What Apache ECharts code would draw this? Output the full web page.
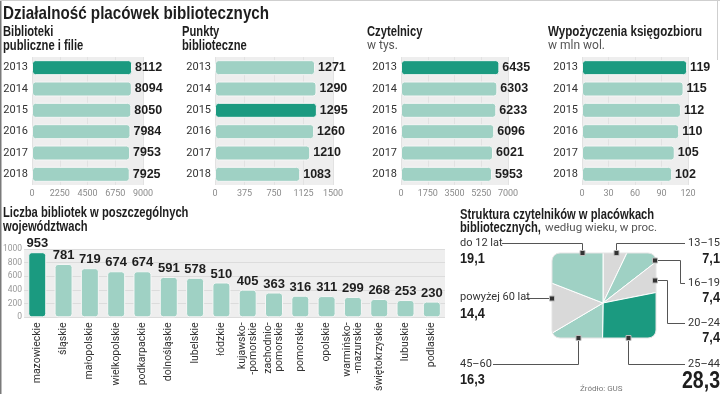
<!DOCTYPE html>
<html>
<head>
<meta charset="utf-8">
<script src="https://cdn.jsdelivr.net/npm/echarts@6/dist/echarts.min.js"></script>
<style>html,body{margin:0;padding:0;background:#fff;}#c{width:720px;height:394px;}</style>
</head>
<body>
<div id="c"></div>
<script>
// ---- data ----
const years = ['2013', '2014', '2015', '2016', '2017', '2018'];
const bibliotekiValues = [8112, 8094, 8050, 7984, 7953, 7925];
const punktyValues = [1271, 1290, 1295, 1260, 1210, 1083];
const czytelnicyValues = [6435, 6303, 6233, 6096, 6021, 5953];
const wypozyczeniaValues = [119, 115, 112, 110, 105, 102];
const topAxisMax = [9000, 1500, 7000, 120];
const topAxisInterval = [2250, 375, 1750, 30];

const wojewodztwa = ['mazowieckie', 'śląskie', 'małopolskie', 'wielkopolskie', 'podkarpackie',
  'dolnośląskie', 'lubelskie', 'łódzkie', 'kujawsko-\n-pomorskie', 'zachodnio-\npomorskie',
  'pomorskie', 'opolskie', 'warmińsko-\n-mazurskie', 'świętokrzyskie', 'lubuskie', 'podlaskie'];
const wojewodztwaValues = [953, 781, 719, 674, 674, 591, 578, 510, 405, 363, 316, 311, 299, 268, 253, 230];
const wojAxisMax = 1000;
const wojAxisInterval = 200;

const ageGroups = ['13–15', '16–19', '20–24', '25–44', '45–60', 'powyżej 60 lat', 'do 12 lat'];
const ageValues = [7.1, 7.4, 7.4, 28.3, 16.3, 14.4, 19.1];

// ---- styles ----
const DARK = '#1b9a80', LIGHT = '#9fd1c4', GREY = '#d9d9d9';
const BOLD = "'Liberation Sans', Arial, sans-serif";
const REG = "Roboto, 'Noto Sans', sans-serif";
const TXT = '#1e1e1e';
const plain = v => String(v);

function colored(values) {
  const mx = Math.max(...values);
  return values.map(v => ({ value: v, itemStyle: { color: v === mx ? DARK : LIGHT } }));
}
function fmt(v) { return String(v).replace('.', ','); }

const topPanels = [
  { values: bibliotekiValues, left: 32, width: 111 },
  { values: punktyValues, left: 215, width: 118 },
  { values: czytelnicyValues, left: 401, width: 107 },
  { values: wypozyczeniaValues, left: 582, width: 106 }
];

const grids = [], xAxes = [], yAxes = [], series = [];
topPanels.forEach((p, i) => {
  grids.push({ left: p.left, width: p.width, top: 57, height: 128, show: true, backgroundColor: '#eeeeee', borderWidth: 0 });
  xAxes.push({ type: 'value', gridIndex: i, min: 0, max: topAxisMax[i], interval: topAxisInterval[i],
    axisLine: { show: false }, axisTick: { show: false },
    splitLine: { show: true, lineStyle: { color: '#e2e2e2', width: 1 } },
    axisLabel: { color: '#8a8a8a', fontSize: 9, fontFamily: REG, margin: 4, formatter: plain } });
  yAxes.push({ type: 'category', gridIndex: i, data: years, inverse: true,
    axisLine: { show: false }, axisTick: { show: false },
    axisLabel: { color: '#333', fontSize: 11, fontFamily: REG, margin: 4 } });
  series.push({ type: 'bar', xAxisIndex: i, yAxisIndex: i, data: colored(p.values), barWidth: 15,
    itemStyle: { borderRadius: 3, borderColor: '#f6f6f6', borderWidth: 1 },
    label: { show: true, position: 'right', distance: 3, color: TXT, fontFamily: BOLD, fontWeight: 'bold', fontSize: 12.5 } });
});

// bottom bar chart
grids.push({ left: 21, width: 424, top: 249, height: 79, show: true, backgroundColor: '#eeeeee', borderWidth: 0 });
xAxes.push({ type: 'category', gridIndex: 4, data: wojewodztwa,
  axisLine: { show: false }, axisTick: { show: false },
  axisLabel: { rotate: 90, color: '#333', fontSize: 10.5, fontFamily: REG, margin: 5, lineHeight: 11, interval: 0 } });
yAxes.push({ type: 'value', gridIndex: 4, min: 0, max: wojAxisMax, interval: wojAxisInterval,
  axisLine: { show: false }, axisTick: { show: false },
  splitLine: { show: true, lineStyle: { color: '#dcdcdc' } },
  axisLabel: { color: '#999', fontSize: 8.5, fontFamily: REG, margin: 2, formatter: plain } });
series.push({ type: 'bar', xAxisIndex: 4, yAxisIndex: 4, data: colored(wojewodztwaValues), barWidth: 18,
  itemStyle: { borderRadius: 3, borderColor: '#f6f6f6', borderWidth: 1 },
  label: { show: true, position: 'top', distance: 2, color: TXT, fontFamily: BOLD, fontWeight: 'bold', fontSize: 13 } });

// square pie
const ageMax = Math.max(...ageValues);
const greyIdx = [0, 2, 5];
series.push({ type: 'pie', center: [603, 303], radius: 76, startAngle: 90, clockwise: true, z: 2,
  silent: true, label: { show: false }, labelLine: { show: false }, animation: false,
  itemStyle: { borderColor: '#ffffff', borderWidth: 1 },
  data: ageValues.map((v, i) => ({ name: ageGroups[i], value: v,
    itemStyle: { color: v === ageMax ? DARK : (greyIdx.includes(i) ? GREY : LIGHT) } })) });

const g = [];
function txt(x, y, s, opt, sx) {
  g.push({ type: 'text', z: 12, silent: true, x: x, y: y, scaleX: sx || 1,
    style: Object.assign({ text: s, fill: TXT, font: '11px ' + REG, verticalAlign: 'middle' }, opt || {}) });
}
// titles (bold condensed look via horizontal scaling)
const boldT = (size) => 'bold ' + size + 'px ' + BOLD;
txt(3, 14, 'Działalność placówek bibliotecznych', { font: boldT(19) }, 0.8);
txt(3, 32, 'Biblioteki', { font: boldT(14) }, 0.8);
txt(3, 46, 'publiczne i filie', { font: boldT(14) }, 0.8);
txt(182, 32, 'Punkty', { font: boldT(14) }, 0.8);
txt(182, 46, 'biblioteczne', { font: boldT(14) }, 0.8);
txt(367, 32, 'Czytelnicy', { font: boldT(14) }, 0.8);
txt(367, 46, 'w tys.', { font: '12px ' + REG, fill: '#555' });
txt(548, 32, 'Wypożyczenia księgozbioru', { font: boldT(14) }, 0.83);
txt(548, 46, 'w mln wol.', { font: '12px ' + REG, fill: '#555' });
txt(3, 213, 'Liczba bibliotek w poszczególnych', { font: boldT(14) }, 0.8);
txt(3, 227, 'województwach', { font: boldT(14) }, 0.8);
txt(460, 215, 'Struktura czytelników w placówkach', { font: boldT(14) }, 0.8);
txt(460, 228, 'bibliotecznych,', { font: boldT(14) }, 0.8);
txt(545, 228.5, 'według wieku, w proc.', { font: '11.5px ' + REG, fill: '#555' });

// white mask around rounded square (pie clip)
const SQ = { x: 552, y: 253, w: 104, h: 85, r: 8 };
const M = { x0: 524, y0: 224, x1: 684, y1: 392 };
function maskRect(x, y, w, h) { g.push({ type: 'rect', z: 5, silent: true, shape: { x, y, width: w, height: h }, style: { fill: '#fff' } }); }
maskRect(M.x0, M.y0, M.x1 - M.x0, SQ.y - M.y0);
maskRect(M.x0, SQ.y + SQ.h, M.x1 - M.x0, M.y1 - SQ.y - SQ.h);
maskRect(M.x0, SQ.y - 1, SQ.x - M.x0, SQ.h + 2);
maskRect(SQ.x + SQ.w, SQ.y - 1, M.x1 - SQ.x - SQ.w, SQ.h + 2);
function corner(cx, cy, px, py, a0) {
  const pts = [[px, py]];
  for (let k = 0; k <= 8; k++) { const a = (a0 + k * 90 / 8) * Math.PI / 180; pts.push([cx + SQ.r * Math.cos(a), cy + SQ.r * Math.sin(a)]); }
  g.push({ type: 'polygon', z: 5, silent: true, shape: { points: pts }, style: { fill: '#fff' } });
}
corner(SQ.x + SQ.r, SQ.y + SQ.r, SQ.x - 0.5, SQ.y - 0.5, 180);
corner(SQ.x + SQ.w - SQ.r, SQ.y + SQ.r, SQ.x + SQ.w + 0.5, SQ.y - 0.5, 270);
corner(SQ.x + SQ.w - SQ.r, SQ.y + SQ.h - SQ.r, SQ.x + SQ.w + 0.5, SQ.y + SQ.h + 0.5, 0);
corner(SQ.x + SQ.r, SQ.y + SQ.h - SQ.r, SQ.x - 0.5, SQ.y + SQ.h + 0.5, 90);
// faint outline of the rounded square
g.push({ type: 'rect', z: 6, silent: true, shape: { x: SQ.x, y: SQ.y, width: SQ.w, height: SQ.h, r: SQ.r },
  style: { fill: null, stroke: '#e4e4e4', lineWidth: 1 } });

function line(pts) { g.push({ type: 'polyline', z: 10, silent: true, shape: { points: pts }, style: { stroke: '#555', lineWidth: 1, fill: null } }); }
function marker(x, y) { g.push({ type: 'rect', z: 11, silent: true, shape: { x: x - 2.5, y: y - 2.5, width: 5, height: 5 }, style: { fill: '#333', stroke: '#bdbdbd', lineWidth: 1 } }); }

line([[502, 243.5], [582.5, 243.5], [582.5, 253]]); marker(582.5, 253);
line([[616.5, 253], [616.5, 243.5], [685, 243.5]]); marker(616.5, 253);
line([[655, 260.5], [680.5, 260.5], [680.5, 283.5], [685, 283.5]]); marker(655, 260.5);
line([[655, 280.5], [667.5, 280.5], [667.5, 323.5], [685, 323.5]]); marker(655, 280.5);
line([[628.5, 338], [628.5, 364.5], [685, 364.5]]); marker(628.5, 338);
line([[578.5, 338], [578.5, 364.5], [493, 364.5]]); marker(578.5, 338);
line([[526, 298.5], [552, 298.5]]); marker(552, 298.5);

const lab = {}; ageGroups.forEach((n, i) => lab[n] = fmt(ageValues[i]));
const vf = boldT(15);
txt(460, 243, 'do 12 lat', { fill: '#333' });
txt(460, 259, lab['do 12 lat'], { font: vf }, 0.85);
txt(460, 297, 'powyżej 60 lat', { fill: '#333' });
txt(460, 314, lab['powyżej 60 lat'], { font: vf }, 0.85);
txt(460, 364, '45–60', { fill: '#333' });
txt(460, 380, lab['45–60'], { font: vf }, 0.85);
const R = { align: 'right' };
txt(720, 243, '13–15', Object.assign({ fill: '#333' }, R));
txt(720, 259, lab['13–15'], Object.assign({ font: vf }, R), 0.85);
txt(720, 283, '16–19', Object.assign({ fill: '#333' }, R));
txt(720, 298, lab['16–19'], Object.assign({ font: vf }, R), 0.85);
txt(720, 323, '20–24', Object.assign({ fill: '#333' }, R));
txt(720, 338, lab['20–24'], Object.assign({ font: vf }, R), 0.85);
txt(720, 364, '25–44', Object.assign({ fill: '#333' }, R));
txt(720, 382, lab['25–44'], Object.assign({ font: boldT(23) }, R), 0.85);
txt(580, 389, 'Źródło: GUS', { fill: '#777', font: '8px ' + REG });

// frame lines
g.push({ type: 'rect', z: 20, silent: true, shape: { x: 0, y: 0, width: 1.5, height: 394 }, style: { fill: '#7a7a7a' } });
g.push({ type: 'rect', z: 20, silent: true, shape: { x: 0, y: 0, width: 720, height: 1 }, style: { fill: '#cfcfcf' } });
g.push({ type: 'rect', z: 20, silent: true, shape: { x: 717, y: 0, width: 1, height: 60 }, style: { fill: '#cfcfcf' } });

const chart = echarts.init(document.getElementById('c'), null, { renderer: 'canvas' });
chart.setOption({
  backgroundColor: '#ffffff',
  animation: false,
  grid: grids,
  xAxis: xAxes,
  yAxis: yAxes,
  series: series,
  graphic: { elements: g }
});
</script>
</body>
</html>
